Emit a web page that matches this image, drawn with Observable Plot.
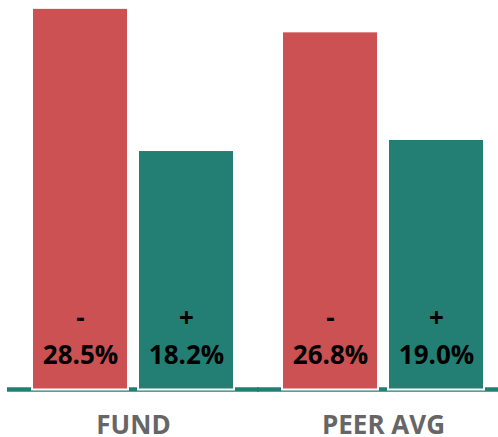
<!DOCTYPE html>
<html><head><meta charset="utf-8">
<script src="https://cdn.jsdelivr.net/npm/d3@7"></script>
<script src="https://cdn.jsdelivr.net/npm/@observablehq/plot@0.6"></script>
<style>body{margin:0;background:#fff} svg{display:block}</style>
</head><body><div id="chart"></div>
<script>
const groups = ["FUND", "PEER AVG"];
const signs = ["-", "+"];
const downside = [28.5, 26.8];
const upside = [18.2, 19.0];
const colors = ["#CB5153", "#237F73"];
const yBase = 0.85;

const data = groups.flatMap((g, i) => [
  {group: g, sign: signs[0], value: downside[i]},
  {group: g, sign: signs[1], value: upside[i]}
]);
const baseline = groups.map(g => ({group: g, value: yBase}));
const font = "'Open Sans', Lato, sans-serif";
const chart = Plot.plot({
  width: 498, height: 437,
  marginTop: 0, marginBottom: 47.5, marginLeft: 9, marginRight: 0,
  style: {fontFamily: font, background: "white"},
  fx: {domain: groups, range: [7, 509], paddingInner: 0.192, paddingOuter: 0.1, label: null},
  x: {domain: signs, paddingInner: 10/106, paddingOuter: 0, axis: null},
  y: {domain: [yBase, 29.07], clamp: true, axis: null},
  color: {domain: signs, range: colors},
  marks: [
    Plot.ruleY(baseline, {fx: "group", y: "value", stroke: colors[1], strokeWidth: 4.5, dy: -0.5, insetLeft: -25, insetRight: -25}),
    Plot.barY(data, {fx: "group", x: "sign", y: "value", fill: "sign", stroke: "white", strokeWidth: 2}),
    Plot.text(data, {fx: "group", x: "sign", text: "sign", frameAnchor: "bottom", dy: -63.5,
      fontSize: 26, fontWeight: "bold", fill: "black"}),
    Plot.text(data, {fx: "group", x: "sign", text: d => d.value.toFixed(1) + "%", frameAnchor: "bottom", dy: -26.5,
      fontSize: 26, fontWeight: "bold", fill: "black"}),
    Plot.axisFx({anchor: "bottom", tickSize: 0, tickPadding: 26, fontSize: 26, fontWeight: "bold", fill: "#666666", label: null})
  ]
});
document.getElementById("chart").appendChild(chart);
</script>
</body></html>
